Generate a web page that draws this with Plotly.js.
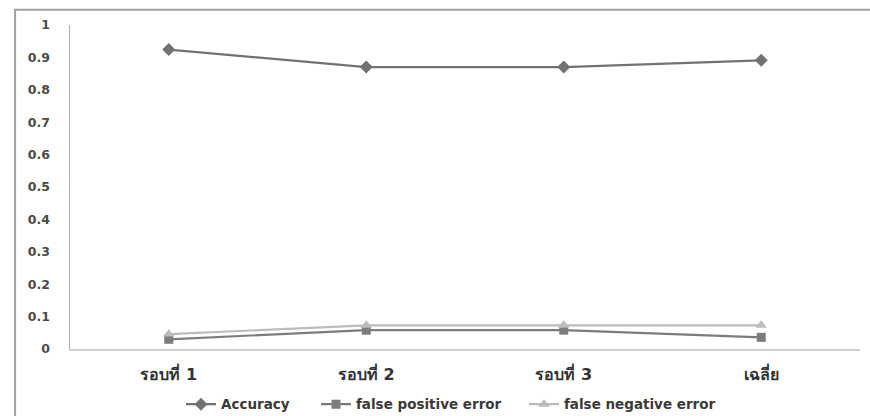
<!DOCTYPE html>
<html>
<head>
<meta charset="utf-8">
<script src="https://cdn.plot.ly/plotly-3.0.1.min.js"></script>
<style>
  html, body { margin: 0; padding: 0; background: #fff; }
  #chart { width: 870px; height: 416px; }
</style>
</head>
<body>
<div id="chart"></div>
<script>
// Rounds of evaluation and the average
const categories = ['รอบที่ 1', 'รอบที่ 2', 'รอบที่ 3', 'เฉลี่ย'];
const accuracy = [0.924, 0.870, 0.870, 0.891];
const falsePositive = [0.030, 0.058, 0.058, 0.036];
const falseNegative = [0.046, 0.073, 0.073, 0.073];
const yTicks = [0, 0.1, 0.2, 0.3, 0.4, 0.5, 0.6, 0.7, 0.8, 0.9, 1];
const yTickLabels = ['0', '0.1', '0.2', '0.3', '0.4', '0.5', '0.6', '0.7', '0.8', '0.9', '1'];

const font = 'Tahoma, "DejaVu Sans", "Noto Sans", sans-serif';

const traces = [
  {
    x: categories, y: accuracy, name: 'Accuracy', type: 'scatter', mode: 'lines+markers',
    line: { color: '#727272', width: 2.2 },
    marker: { symbol: 'diamond', size: 10, color: '#727272' },
    legend: 'legend'
  },
  {
    x: categories, y: falsePositive, name: 'false positive error', type: 'scatter', mode: 'lines+markers',
    line: { color: '#7c7c7c', width: 2.2 },
    marker: { symbol: 'square', size: 9, color: '#7c7c7c' },
    legend: 'legend2'
  },
  {
    x: categories, y: falseNegative, name: 'false negative error', type: 'scatter', mode: 'lines+markers',
    line: { color: '#bcbcbc', width: 2.2 },
    marker: { symbol: 'triangle-up', size: 10, color: '#bcbcbc' },
    legend: 'legend3'
  }
];

// one legend box per series so the entries can be spaced along the bottom
function legendAt(xPx) {
  return {
    orientation: 'h', x: xPx / 870, xref: 'container', xanchor: 'left',
    y: 0.028, yref: 'container', yanchor: 'middle',
    font: { family: font, size: 13.5, color: '#3a3a3a', weight: 'bold' },
    bgcolor: 'rgba(0,0,0,0)'
  };
}

const layout = {
  width: 870, height: 416,
  margin: { l: 70, r: 10, t: 25, b: 67 },
  paper_bgcolor: '#fff', plot_bgcolor: '#fff',
  font: { family: font, color: '#333', size: 11 },
  showlegend: true,
  legend: legendAt(181),
  legend2: legendAt(316),
  legend3: legendAt(524),
  xaxis: {
    type: 'category', range: [-0.5, 3.5],
    showgrid: false, zeroline: false,
    showline: true, linecolor: '#d0d0d0', linewidth: 2,
    ticks: '', ticklabelstandoff: 10,
    tickfont: { family: font, size: 16, color: '#333', weight: 'bold' }
  },
  yaxis: {
    range: [0, 1], tickvals: yTicks, ticktext: yTickLabels,
    showgrid: false, zeroline: false,
    showline: true, linecolor: '#b0b0b0', linewidth: 1.5,
    ticks: '', ticklabelstandoff: 16,
    tickfont: { family: font, size: 12.5, color: '#4a4a4a', weight: 'bold' }
  },
  shapes: [
    {
      type: 'rect', xref: 'paper', yref: 'paper',
      x0: -0.0695, x1: 1.1, y0: -0.4, y1: 1.047,
      line: { color: '#a0a0a0', width: 2 }, fillcolor: 'rgba(0,0,0,0)', layer: 'below'
    }
  ]
};

Plotly.newPlot('chart', traces, layout, { displayModeBar: false, staticPlot: true });
</script>
</body>
</html>
